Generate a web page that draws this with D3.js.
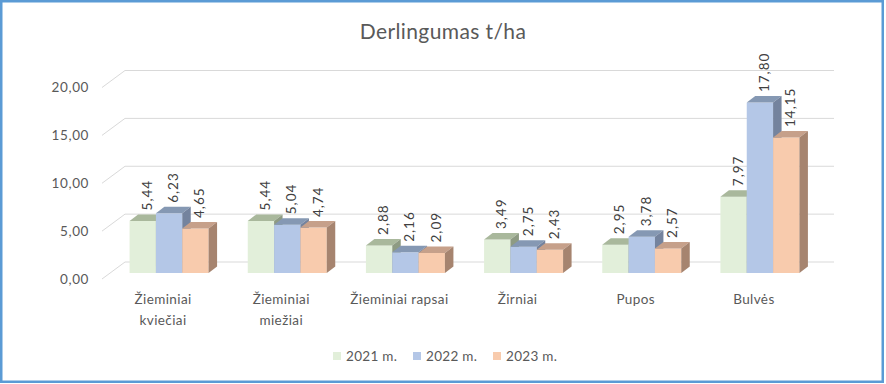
<!DOCTYPE html>
<html>
<head>
<meta charset="utf-8">
<script src="https://cdn.jsdelivr.net/npm/d3@7/dist/d3.min.js"></script>
<style>
  html, body { margin: 0; padding: 0; background: #fff; }
  svg { display: block; font-family: Lato, "Open Sans", sans-serif; }
</style>
</head>
<body>
<svg id="chart" width="886" height="384"></svg>
<script>
// ---- data ----
const title = "Derlingumas t/ha";
const categories = ["Žieminiai kviečiai", "Žieminiai miežiai", "Žieminiai rapsai", "Žirniai", "Pupos", "Bulvės"];
const categoryLines = [["Žieminiai", "kviečiai"], ["Žieminiai", "miežiai"], ["Žieminiai rapsai"], ["Žirniai"], ["Pupos"], ["Bulvės"]];
const seriesNames = ["2021 m.", "2022 m.", "2023 m."];
const values2021 = [5.44, 5.44, 2.88, 3.49, 2.95, 7.97];
const values2022 = [6.23, 5.04, 2.16, 2.75, 3.78, 17.80];
const values2023 = [4.65, 4.74, 2.09, 2.43, 2.57, 14.15];
const yTicks = [0, 5, 10, 15, 20];

const seriesValues = [values2021, values2022, values2023];
const colors = [
  {front: "#e2efda", top: "#a9b89c", side: "#8e9b83"},
  {front: "#b4c7e7", top: "#8598b3", side: "#74839e"},
  {front: "#f8cbad", top: "#c6a08a", side: "#a6846f"}
];

const svg = d3.select("#chart");
const textColor = "#595959";
const fmt = v => d3.format(".2f")(v).replace(".", ",");

// ---- scales ----
const yScale = d3.scaleLinear().domain([0, 20]).range([273, 81.5]);
const x0 = d3.scaleBand().domain(categories).range([110, 819]);
const groupW = 79;
const x1 = d3.scaleBand().domain(seriesNames).range([0, groupW]);
const DX = 8.5, DY = -6.5;   // bar depth
const WX = 15, WY = -11;     // back wall offset from bar plane
const FX = -8, FY = 6;       // floor front offset from bar plane

// ---- border ----
svg.append("rect").attr("x", 1.25).attr("y", 1.25).attr("width", 881.5).attr("height", 380.5)
  .attr("fill", "none").attr("stroke", "#5b9bd5").attr("stroke-width", 2.5);

// ---- title ----
svg.append("text").attr("x", 443).attr("y", 39).attr("text-anchor", "middle")
  .attr("fill", textColor).attr("font-size", 21).style("letter-spacing", "0.4px").text(title);

// ---- gridlines (back wall + side wall) ----
const [xr0, xr1] = x0.range();
const grid = svg.append("g").attr("stroke", "#d9d9d9").attr("stroke-width", 1).attr("fill", "none");
yTicks.forEach(t => {
  const y = yScale(t);
  grid.append("line").attr("x1", xr0 + WX).attr("x2", xr1 + WX).attr("y1", y + WY).attr("y2", y + WY);
  grid.append("line").attr("x1", xr0 + FX).attr("y1", y + FY).attr("x2", xr0 + WX).attr("y2", y + WY);
});

// ---- y axis labels ----
svg.append("g").selectAll("text").data(yTicks).join("text")
  .attr("x", 89).attr("y", d => yScale(d) + FY).attr("dy", "0.35em")
  .attr("text-anchor", "end").attr("fill", textColor).attr("font-size", 13.5)
  .style("letter-spacing", "0.6px").text(d => fmt(d));

// ---- bars ----
const base = yScale(0);
const bars = svg.append("g");
categories.forEach((c, ci) => {
  const gx = x0(c) + (x0.bandwidth() - groupW) / 2;
  seriesNames.forEach((s, si) => {
    const v = seriesValues[si][ci];
    const x = gx + x1(s), w = x1.bandwidth(), y = yScale(v);
    const col = colors[si];
    bars.append("rect").attr("x", x).attr("y", y).attr("width", w).attr("height", base - y).attr("fill", col.front);
    bars.append("polygon").attr("points", [[x, y], [x + DX, y + DY], [x + w + DX, y + DY], [x + w, y]].join(" ")).attr("fill", col.top);
    bars.append("polygon").attr("points", [[x + w, y], [x + w + DX, y + DY], [x + w + DX, base + DY], [x + w, base]].join(" ")).attr("fill", col.side);
  });
});

// ---- data labels ----
const labels = svg.append("g");
categories.forEach((c, ci) => {
  const gx = x0(c) + (x0.bandwidth() - groupW) / 2;
  seriesNames.forEach((s, si) => {
    const v = seriesValues[si][ci];
    const cx = gx + x1(s) + x1.bandwidth() / 2 + DX / 2;
    const cy = yScale(v) + DY - 4;
    labels.append("text").attr("transform", `translate(${cx},${cy}) rotate(-90)`)
      .attr("dy", "0.35em").attr("text-anchor", "start").attr("fill", "#404040")
      .attr("font-size", 13.5).style("letter-spacing", "1px").text(fmt(v));
  });
});

// ---- category labels ----
const cat = svg.append("g");
categories.forEach((c, ci) => {
  const cx = x0(c) + x0.bandwidth() / 2 - 6;
  const t = cat.append("text").attr("text-anchor", "middle").attr("fill", textColor).attr("font-size", 13.5)
    .style("letter-spacing", "0.4px");
  categoryLines[ci].forEach((line, li) => {
    t.append("tspan").attr("x", cx).attr("y", 304 + li * 21).text(line);
  });
});

// ---- legend ----
const legendX = [333, 413, 493];
const legend = svg.append("g");
seriesNames.forEach((s, si) => {
  legend.append("rect").attr("x", legendX[si]).attr("y", 352).attr("width", 8).attr("height", 8).attr("fill", colors[si].front);
  legend.append("text").attr("x", legendX[si] + 13).attr("y", 356).attr("dy", "0.35em")
    .attr("fill", textColor).attr("font-size", 13.5).style("letter-spacing", "0.3px").text(s);
});
</script>
</body>
</html>
